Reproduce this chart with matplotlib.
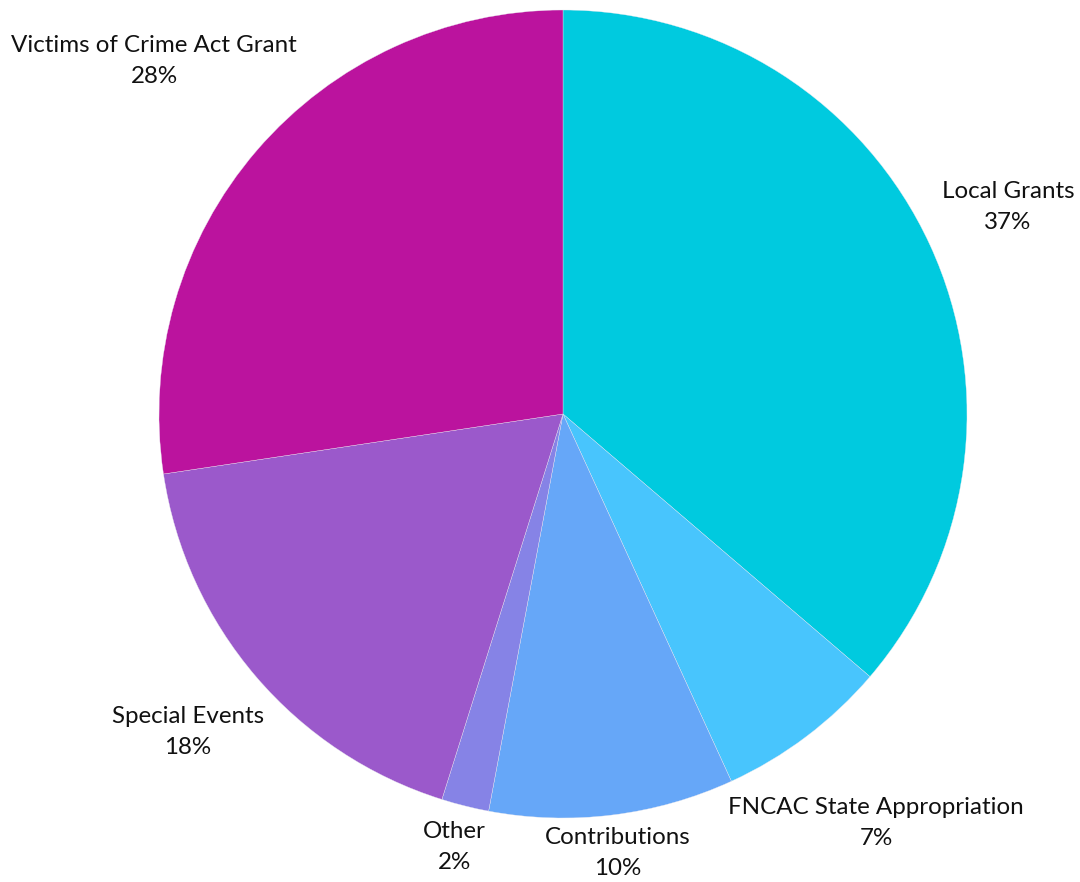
import matplotlib
matplotlib.use("Agg")
import matplotlib.pyplot as plt

# slice data, clockwise from 12 o'clock
categories = ["Local Grants", "FNCAC State Appropriation", "Contributions",
              "Other", "Special Events", "Victims of Crime Act Grant"]
values = [36.3, 6.9, 9.8, 1.9, 17.8, 27.4]
pct_labels = ["37%", "7%", "10%", "2%", "18%", "28%"]
colors = ["#00CADF", "#48C5FD", "#66A7F8", "#8683E6", "#9B59CB", "#BB139E"]

# label centres in pixels of the 1080x882 canvas
label_px = [(1008, 207), (876, 823), (618, 853), (454, 847), (188, 732), (154, 61)]

W, H = 1080, 882
cx, cy, R = 563, 414, 404

plt.rcParams["font.family"] = ["Lato", "DejaVu Sans"]

fig = plt.figure(figsize=(W / 100, H / 100), dpi=100)
ax = fig.add_axes([0, 0, 1, 1])

ax.pie(values, colors=colors, startangle=90, counterclock=False, radius=1,
       wedgeprops={"edgecolor": "#e8e8f0", "linewidth": 0.25})

ax.set_xlim(-cx / R, (W - cx) / R)
ax.set_ylim((cy - H) / R, cy / R)
ax.set_aspect("auto")
ax.axis("off")

for name, pct, (px, py) in zip(categories, pct_labels, label_px):
    ax.text((px - cx) / R, (cy - py) / R, name + "\n" + pct,
            ha="center", va="center", fontsize=17.4, color="#111111",
            linespacing=1.62)

fig.savefig("out.png", dpi=100)
